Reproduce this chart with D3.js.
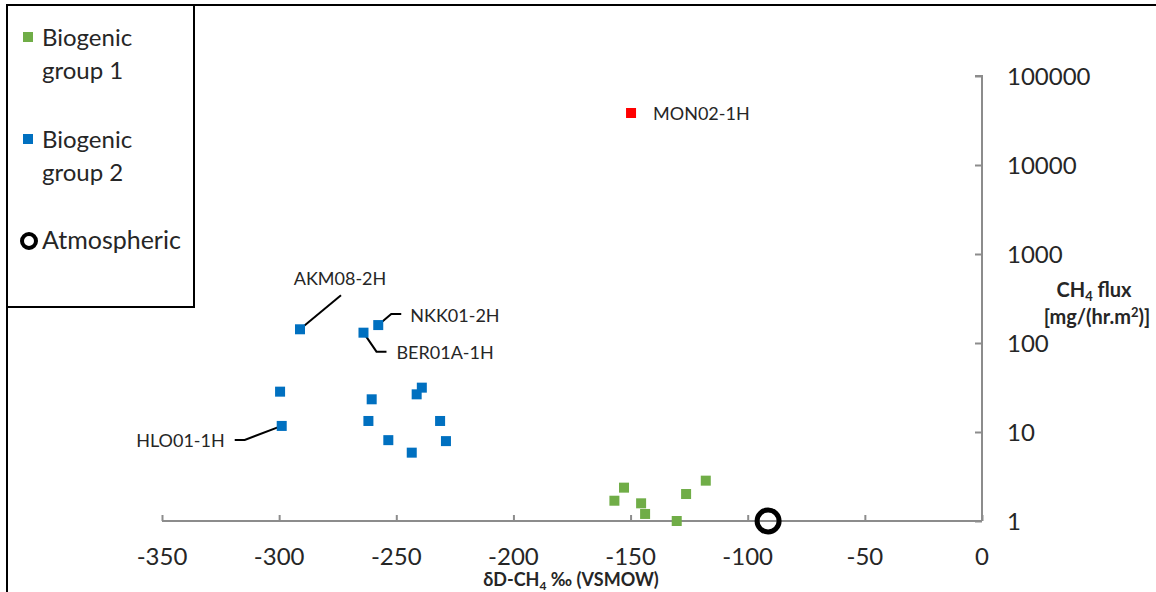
<!DOCTYPE html>
<html>
<head>
<meta charset="utf-8">
<script src="https://cdn.jsdelivr.net/npm/d3@7"></script>
<style>
  body { margin: 0; background: #fff; }
  svg { display: block; }
  text { font-family: Lato, "Open Sans", sans-serif; fill: #262626; }
</style>
</head>
<body>
<div id="chart"></div>
<script>
// data
var group1X = [-152.8, -156.9, -145.5, -143.8, -130.3, -126.3, -117.9];
var group1Flux = [2.37, 1.69, 1.58, 1.2, 1.0, 2.01, 2.84];

var group2Names = ["AKM08-2H", "NKK01-2H", "BER01A-1H", "", "HLO01-1H", "", "", "", "", "", "", "", ""];
var group2X = [-291.1, -257.7, -264.0, -299.6, -298.9, -260.5, -239.1, -241.3, -261.9, -231.3, -253.4, -228.8, -243.4];
var group2Flux = [142.6, 159, 130.6, 28.4, 11.7, 23.3, 31.5, 26.5, 13.3, 13.3, 8.1, 7.9, 5.86];

var highName = ["MON02-1H"];
var highX = [-149.8];
var highFlux = [38400];

var atmX = [-91.3];
var atmFlux = [1.0];

var xTicks = [-350, -300, -250, -200, -150, -100, -50, 0];
var yTicks = [1, 10, 100, 1000, 10000, 100000];

var legendLabels = [["Biogenic", "group 1"], ["Biogenic", "group 2"], ["Atmospheric"]];

var green = "#70AD47", blue = "#0070C0", red = "#FF0000", axisGrey = "#8c8c8c";

var svgWidth = 1156, svgHeight = 592;

var svg = d3.select("#chart").append("svg")
  .attr("width", svgWidth)
  .attr("height", svgHeight);

// scales
var x = d3.scaleLinear().domain([-350, 0]).range([162, 982]);
var y = d3.scaleLog().domain([1, 100000]).range([521, 76]);

// x axis (ticks point up)
var xAxis = d3.axisTop(x).tickValues(xTicks).tickSize(6).tickFormat("");
svg.append("g")
  .attr("transform", "translate(0,521)")
  .call(xAxis)
  .call(g => g.select(".domain").attr("stroke", axisGrey).attr("stroke-width", 2).attr("d", "M162,0H982"))
  .call(g => g.selectAll(".tick line").attr("stroke", axisGrey).attr("stroke-width", 2));

svg.append("g").selectAll("text")
  .data(xTicks)
  .enter()
  .append("text")
  .attr("x", d => x(d))
  .attr("y", 565)
  .attr("text-anchor", "middle")
  .style("font-size", "24px")
  .text(d => d);

// y axis on the right at x=0
var yAxis = d3.axisLeft(y).tickValues(yTicks).tickSize(7).tickFormat("");
svg.append("g")
  .attr("transform", "translate(982,0)")
  .call(yAxis)
  .call(g => g.select(".domain").attr("stroke", axisGrey).attr("stroke-width", 2).attr("d", "M0,521V76H-7"))
  .call(g => g.selectAll(".tick line").attr("stroke", axisGrey).attr("stroke-width", 2));

svg.append("g").selectAll("text")
  .data(yTicks)
  .enter()
  .append("text")
  .attr("x", 1007)
  .attr("y", d => y(d) + 9)
  .style("font-size", "24px")
  .text(d => d);

// axis titles
var xTitle = svg.append("text")
  .attr("x", 571)
  .attr("y", 586)
  .attr("text-anchor", "middle")
  .style("font-size", "18px")
  .style("font-weight", "bold");
xTitle.append("tspan").text("δD-CH");
xTitle.append("tspan").attr("dy", 4).style("font-size", "12px").text("4");
xTitle.append("tspan").attr("dy", -4).text(" ‰ (VSMOW)");

var yTitle = svg.append("text")
  .attr("x", 1094)
  .attr("y", 297)
  .attr("text-anchor", "middle")
  .style("font-size", "20px")
  .style("font-weight", "bold");
yTitle.append("tspan").text("CH");
yTitle.append("tspan").attr("dy", 4).style("font-size", "13px").text("4");
yTitle.append("tspan").attr("dy", -4).text(" flux");

var yTitle2 = svg.append("text")
  .attr("x", 1097)
  .attr("y", 324)
  .attr("text-anchor", "middle")
  .style("font-size", "20px")
  .style("font-weight", "bold");
yTitle2.append("tspan").text("[mg/(hr.m");
yTitle2.append("tspan").attr("dy", -7).style("font-size", "13px").text("2");
yTitle2.append("tspan").attr("dy", 7).text(")]");

// leader lines and labels for group 2 (offsets from the point in px)
var calloutPaths = {
  "AKM08-2H": { path: [[0, 0], [41, -34]], tx: 40, ty: -44, anchor: "middle" },
  "NKK01-2H": { path: [[0, 0], [13, -11], [23, -11]], tx: 32, ty: -3, anchor: "start" },
  "BER01A-1H": { path: [[0, 0], [13, 19], [23, 19]], tx: 33, ty: 26, anchor: "start" },
  "HLO01-1H": { path: [[0, 0], [-37, 14], [-47, 14]], tx: -57, ty: 21, anchor: "end" }
};

var group2 = group2X.map((v, i) => ({ x: v, flux: group2Flux[i], name: group2Names[i] }));
var labelled = group2.filter(d => d.name !== "");

svg.append("g").selectAll("path")
  .data(labelled)
  .enter()
  .append("path")
  .attr("d", d => {
    var px = x(d.x), py = y(d.flux);
    return d3.line()(calloutPaths[d.name].path.map(p => [px + p[0], py + p[1]]));
  })
  .attr("fill", "none")
  .attr("stroke", "#000")
  .attr("stroke-width", 2);

svg.append("g").selectAll("text")
  .data(labelled)
  .enter()
  .append("text")
  .attr("x", d => x(d.x) + calloutPaths[d.name].tx)
  .attr("y", d => y(d.flux) + calloutPaths[d.name].ty)
  .attr("text-anchor", d => calloutPaths[d.name].anchor)
  .style("font-size", "18px")
  .text(d => d.name);

// markers
var sq = 10;
svg.append("g").selectAll("rect")
  .data(group1X.map((v, i) => ({ x: v, flux: group1Flux[i] })))
  .enter()
  .append("rect")
  .attr("x", d => x(d.x) - sq / 2)
  .attr("y", d => y(d.flux) - sq / 2)
  .attr("width", sq)
  .attr("height", sq)
  .attr("fill", green);

svg.append("g").selectAll("rect")
  .data(group2)
  .enter()
  .append("rect")
  .attr("x", d => x(d.x) - sq / 2)
  .attr("y", d => y(d.flux) - sq / 2)
  .attr("width", sq)
  .attr("height", sq)
  .attr("fill", blue);

var high = highX.map((v, i) => ({ x: v, flux: highFlux[i], name: highName[i] }));
svg.append("g").selectAll("rect")
  .data(high)
  .enter()
  .append("rect")
  .attr("x", d => x(d.x) - sq / 2)
  .attr("y", d => y(d.flux) - sq / 2)
  .attr("width", sq)
  .attr("height", sq)
  .attr("fill", red);

svg.append("g").selectAll("text")
  .data(high)
  .enter()
  .append("text")
  .attr("x", d => x(d.x) + 22)
  .attr("y", d => y(d.flux) + 7)
  .style("font-size", "18px")
  .text(d => d.name);

svg.append("g").selectAll("circle")
  .data(atmX.map((v, i) => ({ x: v, flux: atmFlux[i] })))
  .enter()
  .append("circle")
  .attr("cx", d => x(d.x))
  .attr("cy", d => y(d.flux))
  .attr("r", 11)
  .attr("fill", "none")
  .attr("stroke", "#000")
  .attr("stroke-width", 5);

// frame + legend box
svg.append("path")
  .attr("d", "M7,592V5H1156")
  .attr("fill", "none")
  .attr("stroke", "#000")
  .attr("stroke-width", 2);
svg.append("path")
  .attr("d", "M7,307H194V5")
  .attr("fill", "none")
  .attr("stroke", "#000")
  .attr("stroke-width", 2);

var legendY = [46, 148, 249];
var legendColors = [green, blue, null];
var legend = svg.append("g").selectAll("g")
  .data(legendLabels)
  .enter()
  .append("g")
  .attr("transform", (d, i) => `translate(0,${legendY[i]})`);

legend.each(function(d, i) {
  var g = d3.select(this);
  if (legendColors[i]) {
    g.append("rect").attr("x", 23).attr("y", -14).attr("width", 10).attr("height", 10).attr("fill", legendColors[i]);
    d.forEach((line, j) => {
      g.append("text").attr("x", 42).attr("y", j * 33).style("font-size", "24px").text(line);
    });
  } else {
    g.append("circle").attr("cx", 29).attr("cy", -8).attr("r", 7).attr("fill", "none").attr("stroke", "#000").attr("stroke-width", 4);
    g.append("text").attr("x", 42).attr("y", 0).style("font-size", "25px").text(d[0]);
  }
});
</script>
</body>
</html>
